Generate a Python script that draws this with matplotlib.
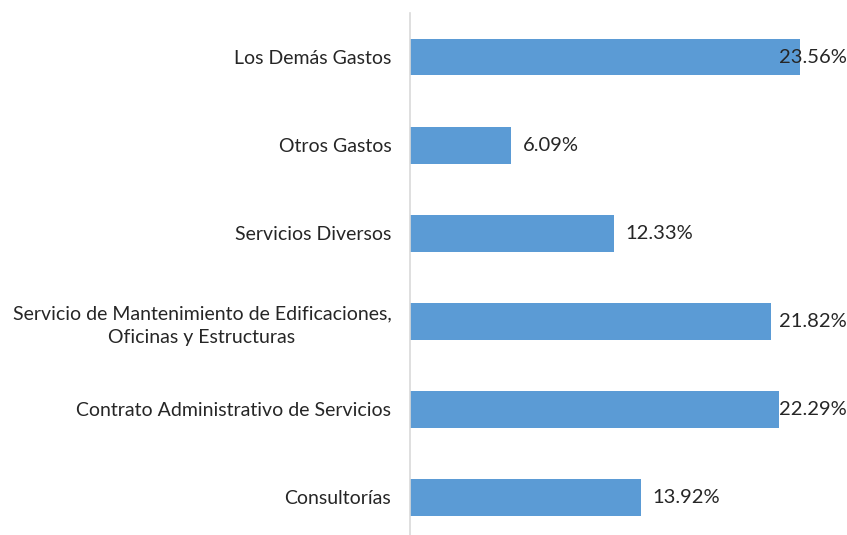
import matplotlib.pyplot as plt

categorias = ['Consultorías',
              'Contrato Administrativo de Servicios',
              'Servicio de Mantenimiento de Edificaciones,\nOficinas y Estructuras',
              'Servicios Diversos',
              'Otros Gastos',
              'Los Demás Gastos']
valores = [13.92, 22.29, 21.82, 12.33, 6.09, 23.56]

plt.rcParams['font.family'] = ['Lato', 'DejaVu Sans']

fig = plt.figure(figsize=(8.47, 5.35), dpi=100)
ax = fig.add_axes([410 / 847, 0, (824 - 410) / 847, (535 - 13) / 535])

pos = range(len(categorias))
ax.barh(pos, valores, height=0.42, color='#5B9BD5')
ax.set_xlim(0, 25)
ax.set_ylim(-0.43, 5.5)
ax.set_yticks(list(pos))
ax.set_yticklabels(categorias, fontsize=14, color='#262626', linespacing=1.45,
                   multialignment='center')
ax.tick_params(axis='y', length=0, pad=13.5)
ax.tick_params(axis='x', bottom=False, labelbottom=False)
for s in ['top', 'right', 'bottom']:
    ax.spines[s].set_visible(False)
ax.spines['left'].set_color('#D9D9D9')
ax.spines['left'].set_linewidth(1.2)

textos = []
for i, v in enumerate(valores):
    t = ax.text(v + 0.7, i, f'{v:.2f}%', va='center', ha='left', fontsize=14.5, color='#262626')
    textos.append(t)

# keep value labels inside the figure, as the original does
fig.canvas.draw()
r = fig.canvas.get_renderer()
lim = 846.5
inv = ax.transData.inverted()
for t in textos:
    bb = t.get_window_extent(r)
    if bb.x1 > lim:
        x0, y0 = t.get_position()
        shift = inv.transform((bb.x1, 0))[0] - inv.transform((lim, 0))[0]
        t.set_position((x0 - shift, y0))

fig.savefig('out.png', dpi=100)
